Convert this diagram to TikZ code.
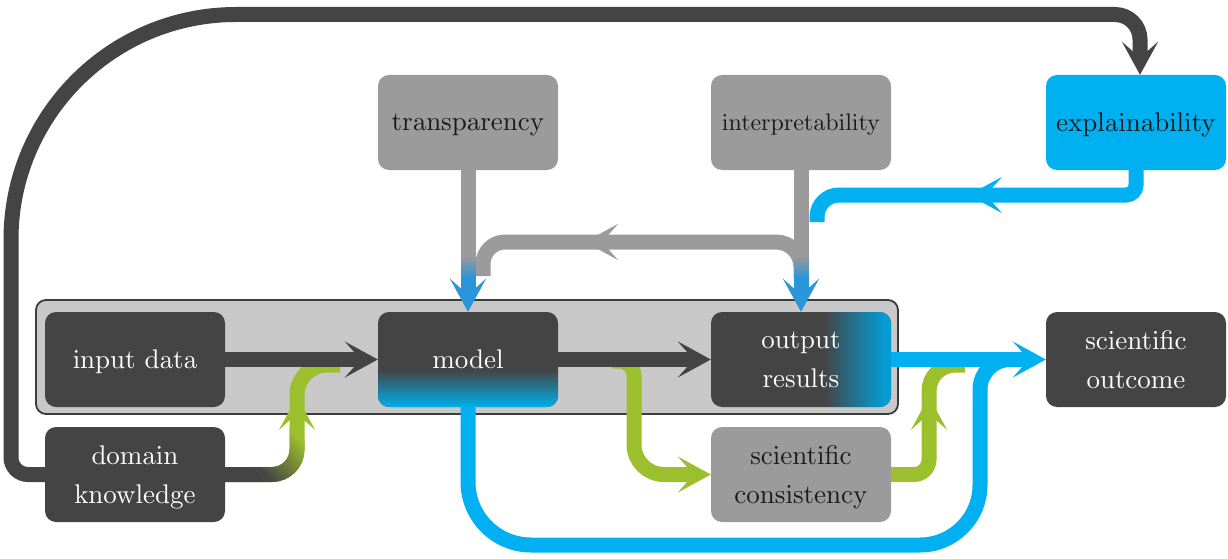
\documentclass[tikz,border=0pt]{standalone}
\usetikzlibrary{arrows.meta,decorations.markings}
\definecolor{darkc}{HTML}{444444}
\definecolor{grayc}{HTML}{9B9B9B}
\definecolor{lightc}{HTML}{C8C8C8}
\definecolor{framec}{HTML}{3C3C3C}
\definecolor{bluec}{HTML}{00B0F0}
\definecolor{greenc}{HTML}{9CBF2D}
\definecolor{gblue}{HTML}{2B95D9}
\definecolor{mdblue}{HTML}{00ACE6}
\definecolor{outblue}{HTML}{059CD4}
\definecolor{txtc}{HTML}{1A1A1A}
\font\bigrm=cmr10 at 27pt
\font\midrm=cmr10 at 24pt
\tikzset{
  tipA/.tip={Stealth[length=33pt,width=36pt,inset=16pt]},
  box/.style={rectangle, rounded corners=11pt, minimum width=180pt, minimum height=95pt,
    inner sep=0pt, align=center, text depth=0pt, font={\bigrm\baselineskip=39pt}},
  darkbox/.style={box, fill=darkc, text=white},
  graybox/.style={box, fill=grayc, text=txtc},
  bluebox/.style={box, fill=bluec, text=txtc},
  bgbox/.style={rectangle, rounded corners=10pt, fill=lightc, draw=framec, line width=1.8pt,
    minimum width=862pt, minimum height=114pt, inner sep=0pt},
  conn/.style={line width=15pt},
  midtip/.style={postaction={decorate}, decoration={markings, mark=at position #1 with {\arrow{tipA}}}},
}
\begin{document}
\begin{tikzpicture}[x=1pt,y=1pt]
\useasboundingbox (0,0) rectangle (1228,558);

% background frame
\node[bgbox] (bg) at (467,201) {};

% nodes
\node[darkbox] (in) at (135,198.5) {input data};
\node[darkbox, path picture={
   \foreach \k in {0,...,24} {
     \pgfmathtruncatemacro\pc{100-\k*100/24}
     \pgfmathsetmacro\ya{-(10+\k*1.5)}
     \pgfmathsetmacro\yb{-(10+(\k+1)*1.5+0.4)}
     \fill[sharp corners, darkc!\pc!mdblue] ([yshift=\ya pt]path picture bounding box.west) rectangle ([yshift=\yb pt]path picture bounding box.east);
   }}]
   (md) at (468,198.5) {model};
\node[darkbox, path picture={
   \foreach \k in {0,...,29} {
     \pgfmathtruncatemacro\pc{100-\k*100/29}
     \pgfmathsetmacro\xa{22+\k*2.1}
     \pgfmathsetmacro\xb{22+(\k+1)*2.1+0.4}
     \fill[sharp corners, darkc!\pc!outblue] ([xshift=\xa pt]path picture bounding box.south) rectangle ([xshift=\xb pt]path picture bounding box.north);
   }
   \fill[sharp corners, outblue] ([xshift=85pt]path picture bounding box.south) rectangle (path picture bounding box.north east);}]
   (out) at (801,198.5) {output\\results};
\node[darkbox] (so) at (1136,198.5) {scientific\\outcome};
\node[darkbox] (dk) at (135,83.5) {domain\\knowledge};
\node[graybox] (sc) at (801,83.5) {scientific\\consistency};
\node[graybox] (tr) at (468,435.5) {transparency};
\node[graybox, font=\midrm] (ip) at (801,435.5) {interpretability};
\node[bluebox] (ex) at (1136,435.5) {explainability};

% free ends
\coordinate (g1end) at (340,193);
\coordinate (g2start) at (612,197);
\coordinate (g3end) at (965,193);
\coordinate (b1end) at (1015,198.5);
\coordinate (b2end) at (817,336);
\coordinate (h1start) at (801,280);
\coordinate (h1end) at (483,282);

% green: domain knowledge -> model (with dark-to-green gradient)
\draw[conn, greenc, midtip=138.8pt] (dk.east) -- (272,83.5) arc[start angle=270,end angle=360,radius=25pt]
   -- (297,163) arc[start angle=180,end angle=90,radius=30pt] -- (g1end);
\begin{scope}
  \clip (180,20) -- (325,20) -- (125,220) -- (-20,220) -- cycle;
  \draw[conn, darkc] (dk.east) -- (272,83.5) arc[start angle=270,end angle=360,radius=25pt] -- (297,163);
\end{scope}
\foreach \k in {0,...,18} {
  \pgfmathtruncatemacro\pc{100-\k*100/18}
  \pgfmathsetmacro\sa{345+4*\k}
  \pgfmathsetmacro\sb{\sa+4.6}
  \begin{scope}
    \clip (\sa-20,20) -- (\sb-20,20) -- (\sb-220,220) -- (\sa-220,220) -- cycle;
    \draw[conn, draw=darkc!\pc!greenc] (dk.east) -- (272,83.5) arc[start angle=270,end angle=360,radius=25pt] -- (297,163);
  \end{scope}
}

% green: model->output branch to scientific consistency
\draw[conn, greenc, -tipA] (g2start) -- (619,197) arc[start angle=90,end angle=0,radius=15pt]
   -- (634,113.5) arc[start angle=180,end angle=270,radius=30pt] -- (sc.west);

% green: scientific consistency -> outcome arrow
\draw[conn, greenc, midtip=109.1pt] (sc.east) -- (914,83.5) arc[start angle=270,end angle=360,radius=15pt]
   -- (929,167) arc[start angle=180,end angle=90,radius=26pt] -- (g3end);

% blue: model bottom -> outcome
\draw[conn, bluec] (md.south) -- (468,76) arc[start angle=180,end angle=270,radius=63pt]
   -- (920,13) arc[start angle=270,end angle=360,radius=60pt]
   -- (980,168.5) arc[start angle=180,end angle=90,radius=30pt] -- (b1end);

% main flow
\draw[conn, darkc, -tipA] (in.east) -- (md.west);
\draw[conn, darkc, -tipA] (md.east) -- (out.west);
\draw[conn, bluec, -tipA] (out.east) -- (so.west);

% domain knowledge -> explainability (top loop)
\draw[conn, darkc, -tipA] (dk.west) -- (28,83.5) arc[start angle=270,end angle=180,radius=17pt]
   -- (11,318.5) arc[start angle=180,end angle=90,radius=225pt]
   -- (1115,543.5) arc[start angle=90,end angle=0,radius=25pt] -- ([xshift=4pt]ex.north);

% gray horizontal branch interpretability -> model
\draw[conn, grayc, midtip=241.3pt] (h1start) -- (801,291) arc[start angle=0,end angle=90,radius=25pt]
   -- (505,316) arc[start angle=90,end angle=180,radius=22pt] -- (h1end);

% transparency -> model
\draw[conn, grayc] (tr.south) -- ([yshift=-85pt]tr.south);
\draw[conn, gblue, -tipA] ([yshift=44pt]md.north) -- (md.north);
\foreach \k in {0,...,11} {
  \pgfmathtruncatemacro\pc{100-\k*100/11}
  \pgfmathsetmacro\ya{-85-\k*2}
  \pgfmathsetmacro\yb{-85-(\k+1)*2-0.4}
  \fill[grayc!\pc!gblue] ([xshift=-7.5pt,yshift=\ya pt]tr.south) rectangle ([xshift=7.5pt,yshift=\yb pt]tr.south);
}

% interpretability -> output
\draw[conn, grayc] (ip.south) -- ([yshift=-85pt]ip.south);
\draw[conn, gblue, -tipA] ([yshift=44pt]out.north) -- (out.north);
\foreach \k in {0,...,11} {
  \pgfmathtruncatemacro\pc{100-\k*100/11}
  \pgfmathsetmacro\ya{-85-\k*2}
  \pgfmathsetmacro\yb{-85-(\k+1)*2-0.4}
  \fill[grayc!\pc!gblue] ([xshift=-7.5pt,yshift=\ya pt]ip.south) rectangle ([xshift=7.5pt,yshift=\yb pt]ip.south);
}

% explainability -> output
\draw[conn, bluec, midtip=187.7pt] (ex.south) -- (1136,373) arc[start angle=0,end angle=-90,radius=10pt]
   -- (839,363) arc[start angle=90,end angle=180,radius=22pt] -- (b2end);
\end{tikzpicture}
\end{document}
